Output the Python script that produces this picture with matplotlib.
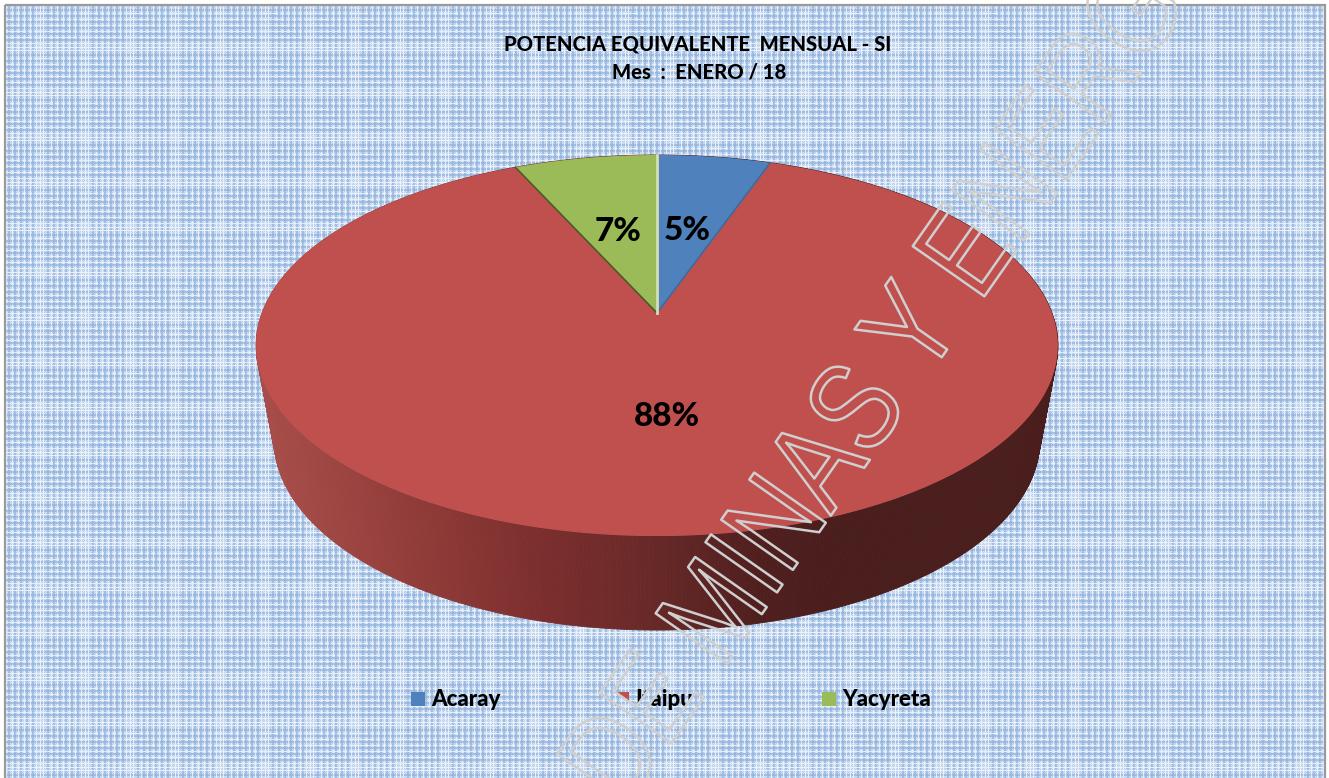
import numpy as np
import matplotlib
matplotlib.use("Agg")
import matplotlib.pyplot as plt
from matplotlib import patheffects as pe
from matplotlib.collections import PolyCollection
from matplotlib.colors import LinearSegmentedColormap
from matplotlib.font_manager import FontProperties
from matplotlib.patches import PathPatch, Rectangle
from matplotlib.textpath import TextPath
from matplotlib.transforms import Affine2D, Transform

# values
plants = ["Acaray", "Itaipu", "Yacyreta"]
shares = [5.4, 87.8, 6.8]
colors = ["#4F81BD", "#C0504D", "#9BBB59"]
title_lines = ["POTENCIA EQUIVALENTE  MENSUAL - SI", "Mes  :  ENERO / 18"]
watermark = "DE MINAS Y ENERGIA"
legend_x = [411, 615, 822]

W, H = 1329, 778
CX, CY = 657, 313       # apex of the pie on screen
A, B, K = 395, 185, 0.1706  # perspective of the tilted disc
BOLD = dict(family="Lato", weight=900)


class Tilt(Transform):
    # unit circle -> tilted disc, in pixel coordinates
    input_dims = 2
    output_dims = 2
    is_separable = False

    def transform_non_affine(self, values):
        xy = np.asarray(values, dtype=float)
        w = 1 + K * xy[:, 1]
        return np.column_stack([CX + A * xy[:, 0] / w, CY - B * xy[:, 1] / w])


class Narrow(pe.AbstractPathEffect):
    # outline only, squeezed along the baseline
    def __init__(self, sx, color, lw):
        super().__init__()
        self.sx, self.color, self.lw = sx, color, lw

    def draw_path(self, renderer, gc, tpath, affine, rgbFace=None):
        gc0 = renderer.new_gc()
        gc0.copy_properties(gc)
        gc0.set_foreground(self.color)
        gc0.set_linewidth(self.lw)
        renderer.draw_path(gc0, tpath, Affine2D().scale(self.sx, 1) + affine, None)
        gc0.restore()


def background_tile():
    # woven blue texture of the chart area
    n = 45
    yy, xx = np.mgrid[0:n, 0:n]
    tile = np.where((xx + yy) % 2 == 0, 1.0, 0.0)[..., None]
    light = np.array([212, 226, 243]) / 255
    mid = np.array([184, 205, 234]) / 255
    rgb = light * tile + mid * (1 - tile)
    blue = np.array([146, 179, 222]) / 255
    white = np.array([238, 244, 251]) / 255
    for i in range(0, 36, 6):
        rgb[:, i:i + 2] = rgb[:, i:i + 2] * 0.3 + blue * 0.7
        rgb[i:i + 2, :] = rgb[i:i + 2, :] * 0.3 + blue * 0.7
        rgb[:, i + 4] = rgb[:, i + 4] * 0.2 + white * 0.8
        rgb[i + 4, :] = rgb[i + 4, :] * 0.2 + white * 0.8
    for i in (38, 41):
        rgb[:, i] = rgb[:, i] * 0.1 + white * 0.9
        rgb[i, :] = rgb[i, :] * 0.1 + white * 0.9
    return np.roll(np.roll(rgb, -3, axis=1), 4, axis=0)


fig = plt.figure(figsize=(W / 100, H / 100), dpi=100)
ax = fig.add_axes([0, 0, 1, 1])
tilt = Tilt() + ax.transData

tile = background_tile()
bg = np.tile(tile, (H // 45 + 1, W // 45 + 1, 1))[:H - 5, :W - 10]
bg_extent = (5, W - 5, H, 5)
ax.imshow(bg, extent=bg_extent, interpolation="nearest", aspect="auto", zorder=1)

# side wall of the pie
theta = np.linspace(0, 2 * np.pi, 721)
rim = Tilt().transform(np.column_stack([np.cos(theta), np.sin(theta)]))
low = np.column_stack([CX + 0.955 * (rim[:, 0] - CX), rim[:, 1] + 94])
wall_cmap = LinearSegmentedColormap.from_list(
    "wall",
    [(0.0, "#A84E4A"), (0.17, "#943E3B"), (0.34, "#7D2F2E"), (0.49, "#692928"),
     (0.63, "#4F1F1E"), (0.73, "#4A1E1D"), (1.0, "#4A1E1D")],
)
strips = [[rim[i], rim[i + 1], low[i + 1], low[i]] for i in range(len(theta) - 1)]
tones = [(0.5 * (rim[i, 0] + rim[i + 1, 0]) - 257) / 802 for i in range(len(theta) - 1)]
ax.add_collection(PolyCollection(strips, facecolors=wall_cmap(tones), edgecolors="face",
                                 linewidths=0.6, zorder=2))

# top of the pie
wedges, _, pct = ax.pie(shares, colors=colors, startangle=90, counterclock=False,
                        autopct="%.0f%%", pctdistance=0.5,
                        textprops=dict(fontsize=24, color="black", **BOLD))
for w in wedges:
    w.set_transform(tilt)
    w.set_zorder(3)
for t in pct:
    t.set_transform(tilt + Affine2D().translate(0, -2))
    t.set_zorder(6)

# slice edges: pale on the shared side, dark against the red
a1 = np.radians(90 - 3.6 * shares[0])
a2 = np.radians(90 + 3.6 * shares[2])
ax.plot([0, np.cos(a1)], [0, np.sin(a1)], color="#3F6A9E", lw=1.2, transform=tilt, zorder=4)
ax.plot([0, np.cos(a2)], [0, np.sin(a2)], color="#4C5A2A", lw=1.2, transform=tilt, zorder=4)
ax.plot([0, 0], [0, 1], color="#D3DFB4", lw=2, transform=tilt, zorder=4)

ax.set_aspect("auto")
ax.set_xlim(0, W)
ax.set_ylim(H, 0)
ax.axis("off")

# frame
ax.add_patch(Rectangle((5, 4.5), W - 9.5, H, fill=False, edgecolor="#9A9A9A", lw=1.6, zorder=5))

ax.text(697.5, 44, title_lines[0], fontsize=14.6, ha="center", va="center", zorder=6, **BOLD)
ax.text(699, 72, title_lines[1], fontsize=14.6, ha="center", va="center", zorder=6, **BOLD)

# legend
for x, name, c in zip(legend_x, plants, colors):
    ax.add_patch(Rectangle((x, 692), 14, 14, facecolor=c, edgecolor="none", zorder=6))
    ax.text(x + 20, 699, name, fontsize=16, ha="left", va="center", zorder=6, **BOLD)

# watermark, outline only
wm_x, wm_y, wm_pt, wm_sx, wm_rot = 624, 811, 91.5, 0.81, 55

# the first letters hide what lies under them (part of the legend)
font = FontProperties(family="Liberation Sans")
glyphs = TextPath((0, 0), watermark[:2], size=wm_pt * 100 / 72, prop=font)
place = Affine2D().scale(wm_sx, 1).rotate_deg(wm_rot).scale(1, -1).translate(wm_x, wm_y)
mask = PathPatch(glyphs, transform=place + ax.transData, facecolor="none", edgecolor="none")
ax.add_patch(mask)
cover = ax.imshow(bg, extent=bg_extent, interpolation="nearest", aspect="auto", zorder=7)
cover.set_clip_path(mask)
ax.set_xlim(0, W)
ax.set_ylim(H, 0)

ax.text(wm_x, wm_y, watermark, family="Liberation Sans", fontsize=wm_pt, rotation=wm_rot,
        rotation_mode="anchor", ha="left", va="baseline", color="none", zorder=8,
        path_effects=[Narrow(wm_sx, "#CFCFCF", 1.8)])

fig.savefig("out.png", dpi=100)
